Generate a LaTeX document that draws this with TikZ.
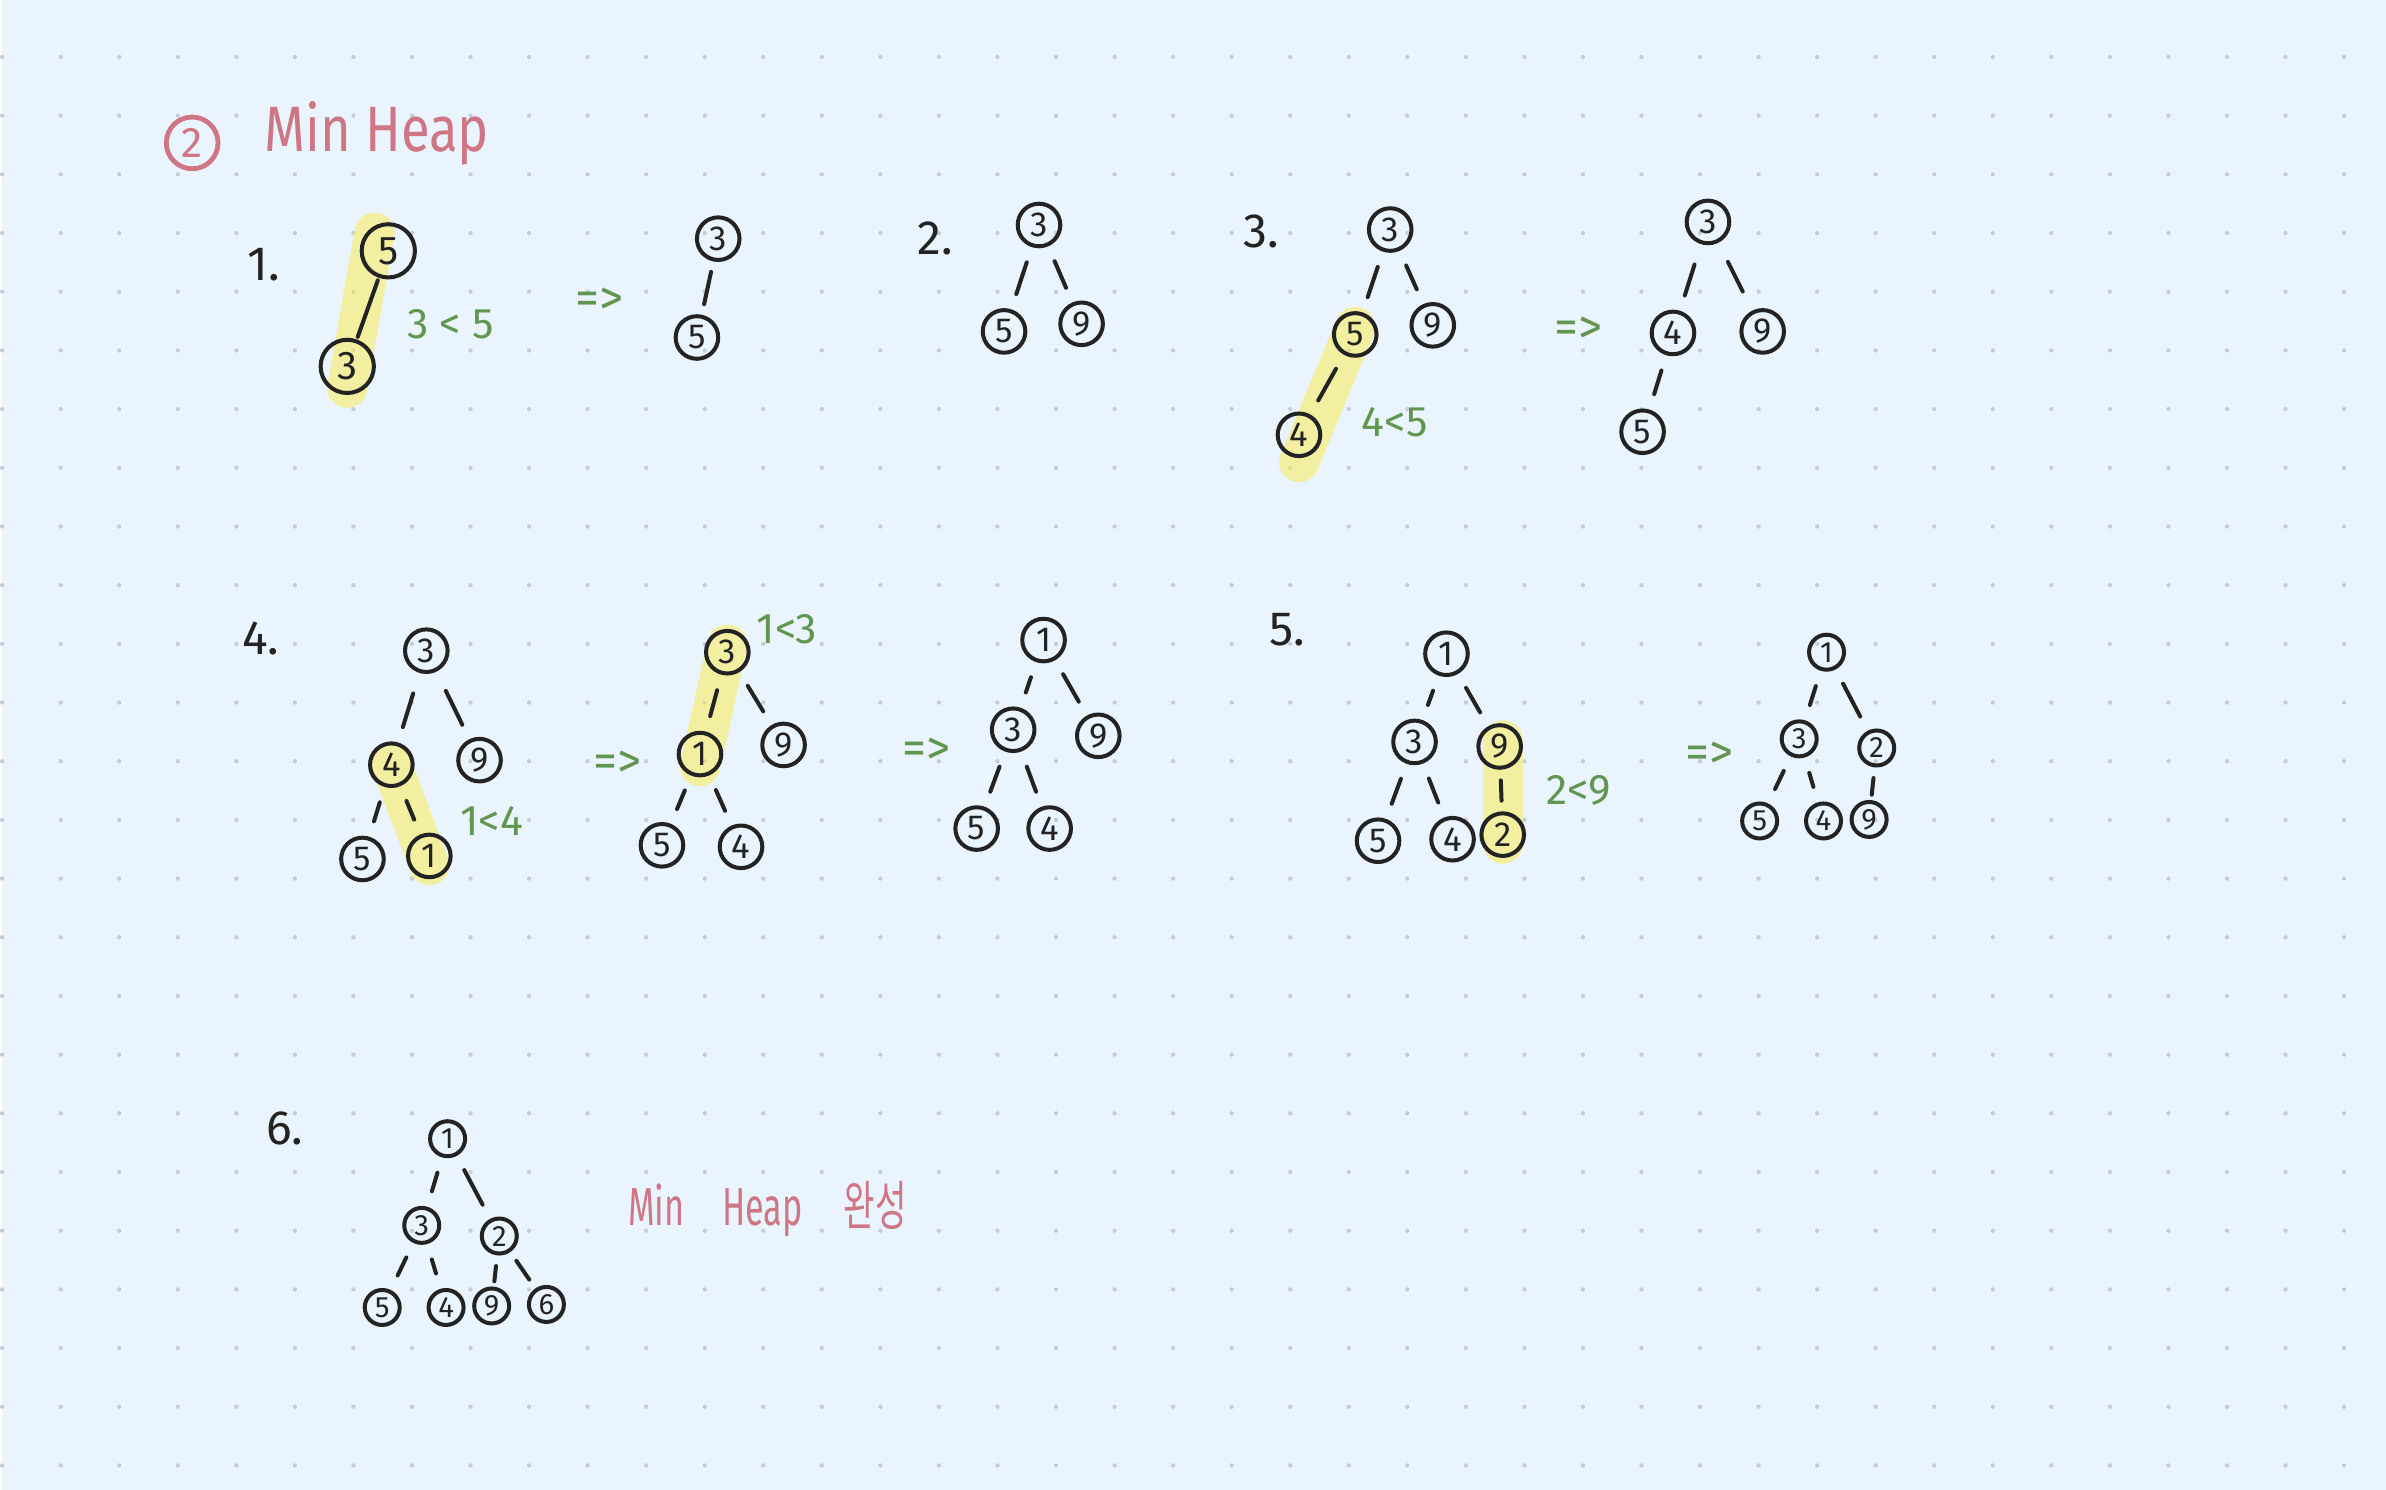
\documentclass[tikz,border=0pt]{standalone}
\usepackage{graphicx}
\usepackage{fontspec}
\setmainfont{Fira Sans}
\newfontfamily\krfont{Noto Sans CJK KR}
\pgfdeclarelayer{under}
\pgfsetlayers{under,main}
\definecolor{paper}{RGB}{234,244,254}
\definecolor{dotc}{RGB}{196,204,212}
\definecolor{ink}{RGB}{35,35,35}
\definecolor{grn}{RGB}{98,150,80}
\definecolor{pnk}{RGB}{207,118,132}
\definecolor{hly}{RGB}{250,236,70}
\tikzset{
  hn/.style={circle,draw=ink,line width=0.75pt,inner sep=0pt,minimum size=0.28cm,font=\fontsize{6.5}{7}\selectfont,text=ink},
  hnbig/.style={hn,minimum size=0.35cm,font=\fontsize{7.5}{8}\selectfont},
  hnsm/.style={hn,minimum size=0.23cm,font=\fontsize{5.5}{6}\selectfont},
  ed/.style={draw=ink,line width=0.75pt,line cap=round,shorten <=3pt,shorten >=3pt},
  hlt/.style={draw=hly,line width=7.5pt,line cap=round,opacity=0.5},
  steplbl/.style={text=ink,font=\fontsize{9}{10}\selectfont},
  cmp/.style={text=grn,font=\fontsize{8}{9}\selectfont},
  arr/.style={text=grn,font=\fontsize{9}{10}\selectfont},
}
\begin{document}
\begin{tikzpicture}[x=0.01cm,y=-0.01cm]
\begin{pgfonlayer}{under}
\fill[paper] (0,0) rectangle (1568,980);
\foreach \i in {0,...,40} {\foreach \j in {0,...,24} {\fill[dotc] (38.51*\i,37.5+38.6*\j) circle[radius=0.4pt];}}
\end{pgfonlayer}
\useasboundingbox (0,0) rectangle (1568,980);

% title
\node[circle,draw=pnk,line width=0.9pt,minimum size=0.34cm,inner sep=0pt,text=pnk,font=\fontsize{8}{9}\selectfont] (tnum) at (125,94) {2};
\node[text=pnk,font=\fontsize{12}{14}\selectfont,anchor=west,inner sep=0pt] (title) at (172,88) {\scalebox{0.82}[1]{Min Heap}};

% step labels
\node[steplbl] (s1) at (172,174) {1.};
\node[steplbl] (s2) at (614,157) {2.};
\node[steplbl] (s3) at (828,152) {3.};
\node[steplbl] (s4) at (170,420) {4.};
\node[steplbl] (s5) at (845,414) {5.};
\node[steplbl] (s6) at (186,742) {6.};

% step 1
\node[hnbig] (a5) at (254,165) {5};
\node[hnbig] (a3) at (227,241) {3};
\draw[ed,shorten <=0.5pt,shorten >=0.5pt] (a5) -- (a3);
\node[cmp] (c1) at (295,213) {3 < 5};
\node[arr] (r1) at (393,198) {=>};
\node[hn] (b3) at (471,157) {3};
\node[hn] (b5) at (457,222) {5};
\draw[ed,shorten <=2pt,shorten >=2pt] (b3) -- (b5);

% step 2
\node[hn] (d3) at (682,148) {3};
\node[hn] (d5) at (659,218) {5};
\node[hn] (d9) at (710,213) {9};
\draw[ed] (d3) -- (d5);
\draw[ed] (d3) -- (d9);

% step 3
\node[hn] (e3) at (913,151) {3};
\node[hn] (e5) at (890,220) {5};
\node[hn] (e9) at (941,214) {9};
\node[hn] (e4) at (853,286) {4};
\draw[ed] (e3) -- (e5);
\draw[ed] (e3) -- (e9);
\draw[ed] (e5) -- (e4);
\node[cmp] (c3) at (916,278) {4<5};
\node[arr] (r3) at (1037,217) {=>};
\node[hn] (f3) at (1122,146) {3};
\node[hn] (f4) at (1099,219) {4};
\node[hn] (f9) at (1158,218) {9};
\node[hn] (f5) at (1079,284) {5};
\draw[ed,shorten <=4pt,shorten >=3pt] (f3) -- (f4);
\draw[ed,shorten <=4pt,shorten >=4pt] (f3) -- (f9);
\draw[ed] (f4) -- (f5);

% step 4
\node[hn] (g3) at (279,428) {3};
\node[hn] (g4) at (256,503) {4};
\node[hn] (g9) at (314,500) {9};
\node[hn] (g5) at (237,565) {5};
\node[hn] (g1) at (281,563) {1};
\draw[ed,shorten <=4pt] (g3) -- (g4);
\draw[ed,shorten <=4pt] (g3) -- (g9);
\draw[ed] (g4) -- (g5);
\draw[ed] (g4) -- (g1);
\node[cmp] (c4) at (322,540) {1<4};
\node[arr] (r4a) at (405,503) {=>};
\node[hn] (h3) at (477,429) {3};
\node[hn] (h1) at (459,496) {1};
\node[hn] (h9) at (514,490) {9};
\node[hn] (h5) at (434,556) {5};
\node[hn] (h4) at (486,557) {4};
\draw[ed] (h3) -- (h1);
\draw[ed] (h3) -- (h9);
\draw[ed] (h1) -- (h5);
\draw[ed] (h1) -- (h4);
\node[cmp] (c4b) at (516,414) {1<3};
\node[arr] (r4b) at (608,494) {=>};
\node[hn] (i1) at (685,421) {1};
\node[hn] (i3) at (665,480) {3};
\node[hn] (i9) at (721,484) {9};
\node[hn] (i5) at (641,545) {5};
\node[hn] (i4) at (689,545) {4};
\draw[ed] (i1) -- (i3);
\draw[ed] (i1) -- (i9);
\draw[ed] (i3) -- (i5);
\draw[ed] (i3) -- (i4);

% step 5
\node[hn] (j1) at (950,430) {1};
\node[hn] (j3) at (929,488) {3};
\node[hn] (j9) at (985,491) {9};
\node[hn] (j5) at (905,553) {5};
\node[hn] (j4) at (954,552) {4};
\node[hn] (j2) at (987,549) {2};
\draw[ed] (j1) -- (j3);
\draw[ed] (j1) -- (j9);
\draw[ed] (j3) -- (j5);
\draw[ed] (j3) -- (j4);
\draw[ed,shorten <=2pt,shorten >=2pt] (j9) -- (j2);
\node[cmp] (c5) at (1037,520) {2<9};
\node[arr] (r5) at (1123,497) {=>};
\node[hnsm] (k1) at (1200,429) {1};
\node[hnsm] (k3) at (1182,486) {3};
\node[hnsm] (k2) at (1233,492) {2};
\node[hnsm] (k5) at (1156,540) {5};
\node[hnsm] (k4) at (1198,540) {4};
\node[hnsm] (k9) at (1228,539) {9};
\draw[ed] (k1) -- (k3);
\draw[ed] (k1) -- (k2);
\draw[ed] (k3) -- (k5);
\draw[ed] (k3) -- (k4);
\draw[ed,shorten <=2pt,shorten >=1pt] (k2) -- (k9);

% step 6
\node[hnsm] (m1) at (293,749) {1};
\node[hnsm] (m3) at (276,806) {3};
\node[hnsm] (m2) at (327,813) {2};
\node[hnsm] (m5) at (250,860) {5};
\node[hnsm] (m4) at (292,860) {4};
\node[hnsm] (m9) at (322,859) {9};
\node[hnsm] (m6) at (358,858) {6};
\draw[ed] (m1) -- (m3);
\draw[ed] (m1) -- (m2);
\draw[ed] (m3) -- (m5);
\draw[ed] (m3) -- (m4);
\draw[ed,shorten <=2pt,shorten >=1pt] (m2) -- (m9);
\draw[ed,shorten <=2pt,shorten >=2pt] (m2) -- (m6);
\node[text=pnk,font=\fontsize{10}{12}\selectfont,anchor=west,inner sep=0pt] (done) at (411,795) {\scalebox{0.64}[1]{Min\hspace{1.1em}Heap\hspace{1.2em}{\krfont\fontsize{10}{12}\selectfont 완성}}};

% highlights
\begin{pgfonlayer}{under}
\draw[hlt] ([shift={(-9,-12)}]a5.center) -- ([shift={(0,14)}]a3.center);
\draw[hlt] ([shift={(0,-5)}]e5.center) -- ([shift={(0,18)}]e4.center);
\draw[hlt] (g4.center) -- ([shift={(0,6)}]g1.center);
\draw[hlt] ([shift={(0,-5)}]h3.center) -- ([shift={(0,8)}]h1.center);
\draw[hlt] ([shift={(2,-4)}]j9.center) -- ([shift={(0,6)}]j2.center);
\end{pgfonlayer}
\end{tikzpicture}
\end{document}
